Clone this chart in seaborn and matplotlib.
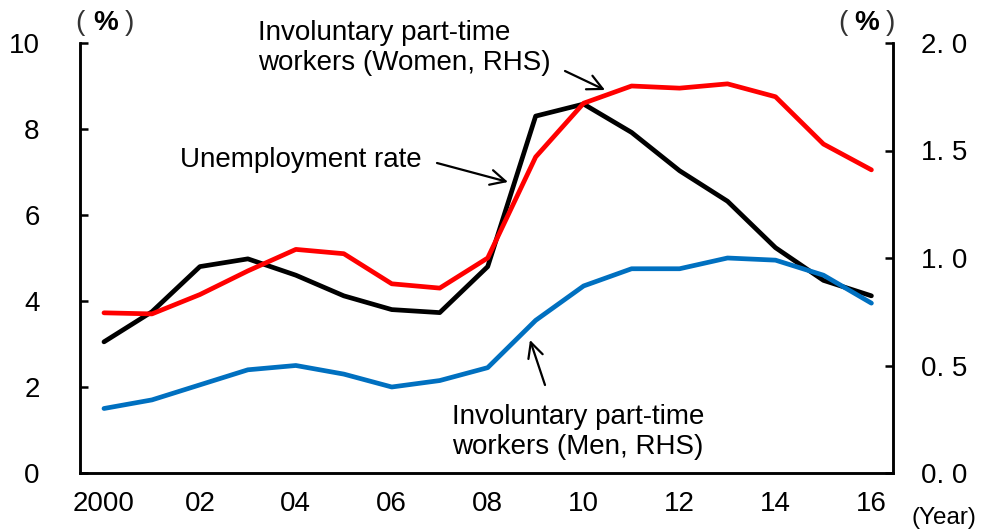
import numpy as np
import pandas as pd
import matplotlib
matplotlib.use("Agg")
import matplotlib.pyplot as plt
from matplotlib import font_manager
import seaborn as sns

# ---- data ----
years = list(range(2000, 2017))
unemployment = [3.05, 3.75, 4.8, 4.98, 4.6, 4.12, 3.8, 3.73, 4.8, 8.3, 8.58, 7.92, 7.03, 6.32, 5.24, 4.48, 4.12]
women_rhs = [0.745, 0.74, 0.83, 0.94, 1.04, 1.02, 0.88, 0.86, 1.0, 1.47, 1.72, 1.80, 1.79, 1.81, 1.75, 1.53, 1.41]
men_rhs = [0.30, 0.34, 0.41, 0.48, 0.50, 0.46, 0.40, 0.43, 0.49, 0.71, 0.87, 0.95, 0.95, 1.00, 0.99, 0.92, 0.79]
xtick_years = list(range(2000, 2017, 2))
xtick_labels = ["2000", "02", "04", "06", "08", "10", "12", "14", "16"]
left_ticks = [0, 2, 4, 6, 8, 10]
left_labels = ["0", "2", "4", "6", "8", "10"]
right_ticks = [0.0, 0.5, 1.0, 1.5, 2.0]
right_labels = ["0. 0", "0. 5", "1. 0", "1. 5", "2. 0"]

sns.set_theme(style="white")
names = {f.name for f in font_manager.fontManager.ttflist}
num_font = "Liberation Sans Narrow" if "Liberation Sans Narrow" in names else "Liberation Sans"
txt_font = "Liberation Sans"
plt.rcParams["font.family"] = [txt_font, "DejaVu Sans"]

df = pd.DataFrame({"year": years, "unemp": unemployment, "women": women_rhs, "men": men_rhs})

fig = plt.figure(figsize=(9.82, 5.31), dpi=100)
ax = fig.add_axes([80 / 982, (531 - 473) / 531, (893 - 80) / 982, 430 / 531])
ax2 = ax.twinx()

sns.lineplot(data=df, x="year", y="unemp", ax=ax, color="black", lw=3.4)
sns.lineplot(data=df, x="year", y="men", ax=ax2, color="#0070C0", lw=3.4)
sns.lineplot(data=df, x="year", y="women", ax=ax2, color="#FF0000", lw=3.4)

ax.set_xlim(1999.5, 2016.45)
ax.set_ylim(0, 10)
ax2.set_ylim(0, 2.0)
ax.set_xlabel("")
ax.set_ylabel("")
ax2.set_ylabel("")

for a in (ax, ax2):
    for s in a.spines.values():
        s.set_color("black")
        s.set_linewidth(1.8)
    a.spines["top"].set_visible(False)
    a.grid(False)

ax.set_xticks(xtick_years)
ax.set_xticklabels(xtick_labels, fontsize=20, family=num_font)
ax.set_yticks(left_ticks)
ax.set_yticklabels(left_labels, fontsize=20, family=num_font)
ax2.set_yticks(right_ticks)
ax2.set_yticklabels(right_labels, fontsize=20, family=num_font)

ax.tick_params(axis="x", length=0, pad=13, colors="black")
ax.tick_params(axis="y", direction="in", length=6, width=1.8, pad=29, colors="black")
ax2.tick_params(axis="y", direction="in", length=6, width=1.8, pad=20, colors="black")

def fx(px):
    return (px - 80) / 813

def fy(py):
    return (473 - py) / 430

# unit labels "(%)" drawn as parens + bold percent sign
def unit_label(cx_paren_l, cx_pct, cx_paren_r, cy):
    y = 1 - cy / 531
    fig.text(cx_paren_l / 982, y, "(", fontsize=20, ha="center", va="center", color="#333333")
    fig.text(cx_pct / 982, y, "%", fontsize=20, fontweight="bold", ha="center", va="center", color="black")
    fig.text(cx_paren_r / 982, y, ")", fontsize=20, ha="center", va="center", color="#333333")

unit_label(80, 106, 129, 23)
unit_label(843, 867, 890, 23)
fig.text(944 / 982, 1 - 518 / 531, "(Year)", fontsize=17.5, ha="center", va="center", color="black")

# annotations
ax.text(fx(258), fy(48), "Involuntary part-time\nworkers (Women, RHS)", transform=ax.transAxes,
        fontsize=20, ha="left", va="center", linespacing=1.15, color="black")
ax.text(fx(180), fy(160), "Unemployment rate", transform=ax.transAxes,
        fontsize=20, ha="left", va="center", color="black")
ax.text(fx(452), fy(432), "Involuntary part-time\nworkers (Men, RHS)", transform=ax.transAxes,
        fontsize=20, ha="left", va="center", linespacing=1.15, color="black")

arrow = dict(arrowstyle="->,head_length=0.9,head_width=0.45", lw=1.6, color="black",
             shrinkA=0, shrinkB=0)
ax.annotate("", xy=(fx(605), fy(90)), xytext=(fx(565), fy(71)),
            xycoords="axes fraction", textcoords="axes fraction", arrowprops=arrow)
ax.annotate("", xy=(fx(508), fy(182)), xytext=(fx(437), fy(163)),
            xycoords="axes fraction", textcoords="axes fraction", arrowprops=arrow)
ax.annotate("", xy=(fx(530), fy(340)), xytext=(fx(545), fy(385)),
            xycoords="axes fraction", textcoords="axes fraction", arrowprops=arrow)

fig.savefig("out.png", dpi=100)
